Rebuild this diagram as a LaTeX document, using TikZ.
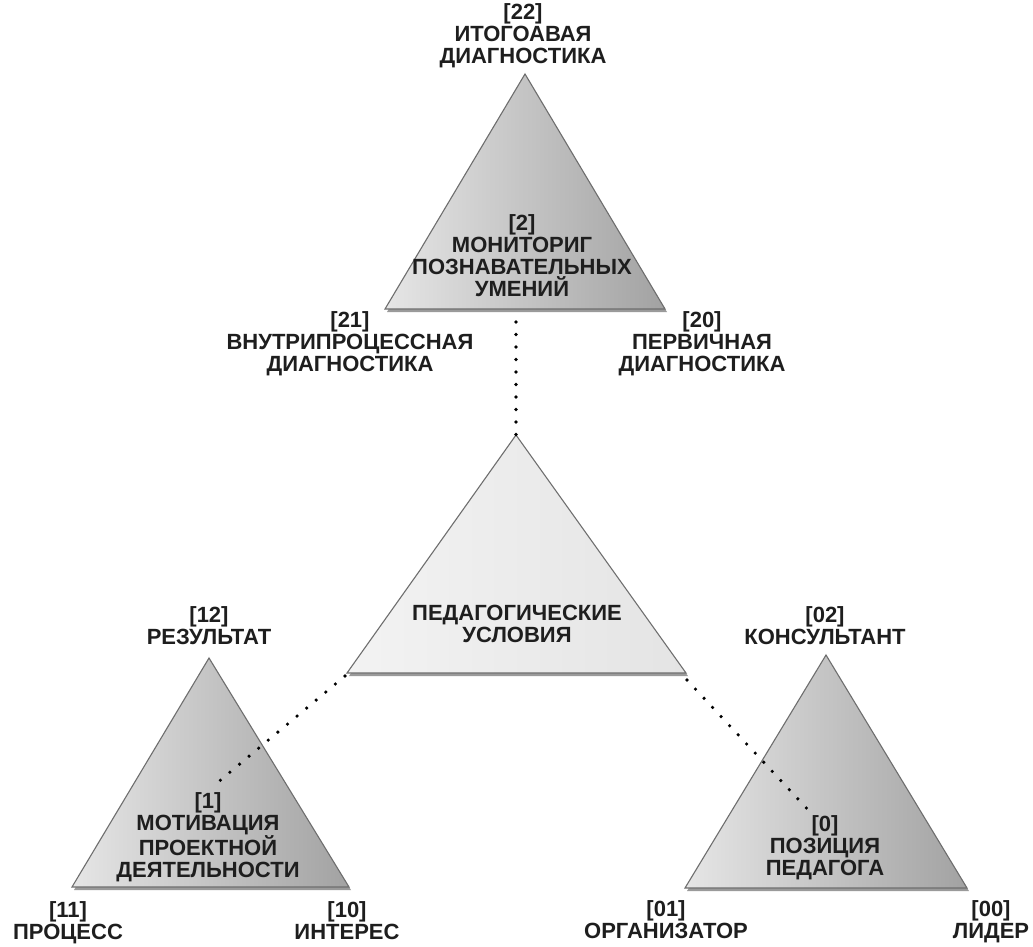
\documentclass[tikz,border=0pt]{standalone}
\usepackage{fontspec}
\setmainfont{Liberation Sans}
\definecolor{triline}{HTML}{6E6E6E}
\definecolor{shadowc}{HTML}{9A9A9A}
\definecolor{darkL}{HTML}{E6E6E6}
\definecolor{darkR}{HTML}{A2A2A2}
\definecolor{lightL}{HTML}{F3F3F3}
\definecolor{lightR}{HTML}{E4E4E4}
\definecolor{txt}{HTML}{1E1E1E}
\begin{document}
\begin{tikzpicture}[x=1pt,y=-1pt,
  lbl/.style={align=center, inner sep=0pt, text=txt, font=\fontsize{22}{22.2}\selectfont\bfseries, text height=15.7pt, text depth=0pt},
  tri/.style={draw=triline, line width=1.1pt, line join=miter},
  darktri/.style={tri, left color=darkL, right color=darkR},
  lighttri/.style={tri, left color=lightL, right color=lightR},
  shad/.style={fill=shadowc},
  dotline/.style={line width=3.6pt, line cap=round, dash pattern=on 0pt off 12.5pt}]
\useasboundingbox (0,0) rectangle (1033,946);
\fill[white] (0,0) rectangle (1033,946);

% top triangle
\coordinate (tA) at (525,74); \coordinate (tL) at (385,309); \coordinate (tR) at (665,309);
\fill[shad] (387,312) -- (525,77) -- (667,312) -- cycle;
\path[darktri] (tA) -- (tR) -- (tL) -- cycle;

% middle triangle
\coordinate (mA) at (516,435); \coordinate (mL) at (347,673); \coordinate (mR) at (686,673);
\fill[shad] (349,676) -- (516,438) -- (688,676) -- cycle;
\path[lighttri] (mA) -- (mR) -- (mL) -- cycle;

% bottom-left triangle
\coordinate (lA) at (209,658); \coordinate (lL) at (72,887); \coordinate (lR) at (349,887);
\fill[shad] (74,890) -- (209,661) -- (351,890) -- cycle;
\path[darktri] (lA) -- (lR) -- (lL) -- cycle;

% bottom-right triangle
\coordinate (rA) at (826,655); \coordinate (rL) at (685,888); \coordinate (rR) at (967,888);
\fill[shad] (687,891) -- (826,658) -- (969,891) -- cycle;
\path[darktri] (rA) -- (rR) -- (rL) -- cycle;

% dotted connectors
\coordinate (vTop) at (516,322);
\coordinate (lStart) at (345,676);
\coordinate (lEnd) at (217,783);
\coordinate (rStart) at (687,680);
\coordinate (rEnd) at (812,814);
\draw[dotline] (vTop) -- (mA);
\draw[dotline] (lStart) -- (lEnd);
\draw[dotline] (rStart) -- (rEnd);

% labels (each node positioned at the centre of its last line)
\node[lbl] (n22) at (523,56) {[22]\\ИТОГОАВАЯ\\ДИАГНОСТИКА};
\node[lbl] (n2) at (522,289) {[2]\\МОНИТОРИГ\\ПОЗНАВАТЕЛЬНЫХ\\УМЕНИЙ};
\node[lbl] (n21) at (350,364) {[21]\\ВНУТРИПРОЦЕССНАЯ\\ДИАГНОСТИКА};
\node[lbl] (n20) at (702,364) {[20]\\ПЕРВИЧНАЯ\\ДИАГНОСТИКА};
\node[lbl] (nped) at (517,635) {ПЕДАГОГИЧЕСКИЕ\\УСЛОВИЯ};
\node[lbl] (n12) at (209,637) {[12]\\РЕЗУЛЬТАТ};
\node[lbl] (n1) at (208,870) {[1]\\МОТИВАЦИЯ\\ПРОЕКТНОЙ\\ДЕЯТЕЛЬНОСТИ};
\node[lbl] (n11) at (68,932) {[11]\\ПРОЦЕСС};
\node[lbl] (n10) at (347,932) {[10]\\ИНТЕРЕС};
\node[lbl] (n02) at (825,637) {[02]\\КОНСУЛЬТАНТ};
\node[lbl] (n0) at (825,868) {[0]\\ПОЗИЦИЯ\\ПЕДАГОГА};
\node[lbl] (n01) at (666,931) {[01]\\ОРГАНИЗАТОР};
\node[lbl] (n00) at (991,931) {[00]\\ЛИДЕР};
\end{tikzpicture}
\end{document}
